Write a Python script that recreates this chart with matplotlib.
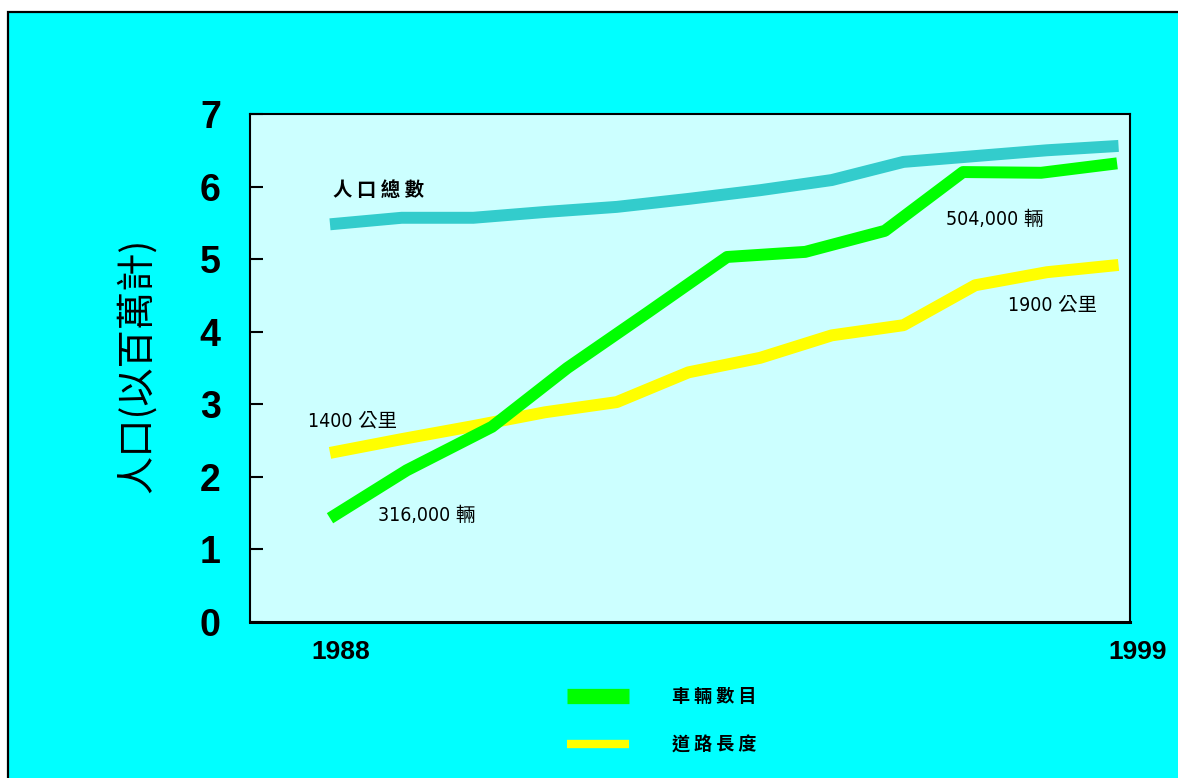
import numpy as np
import matplotlib
matplotlib.use("Agg")
import matplotlib.pyplot as plt
from matplotlib.lines import Line2D
from matplotlib.patches import Rectangle
from matplotlib import font_manager
from matplotlib.transforms import ScaledTranslation

# fonts
cjk = "Noto Sans CJK TC"
fonts = font_manager.fontManager.ttflist
names = {f.name for f in fonts}
has_cond = any(f.name == "DejaVu Sans" and "condensed" in str(f.stretch) for f in fonts)
if "Liberation Sans Narrow" in names:
    num_font, num_stretch = "Liberation Sans Narrow", "normal"
elif has_cond:
    num_font, num_stretch = "DejaVu Sans", "condensed"
else:
    num_font, num_stretch = "Liberation Sans", "normal"
plt.rcParams["font.family"] = ["Liberation Sans", cjk]

# data
years = [1988, 1989, 1990, 1991, 1992, 1993, 1994, 1995, 1996, 1997, 1998, 1999]
population = [5.48, 5.57, 5.57, 5.65, 5.72, 5.83, 5.95, 6.09, 6.34, 6.42, 6.50, 6.56]
road_length = [2.33, 2.52, 2.70, 2.89, 3.03, 3.44, 3.64, 3.95, 4.09, 4.64, 4.82, 4.92]
vehicle_x = [1988.0, 1989.07, 1990.26, 1991.31, 1992.44, 1993.54, 1994.63,
             1995.74, 1996.83, 1997.92, 1998.98]
vehicles = [1.43, 2.09, 2.69, 3.50, 4.27, 5.03, 5.10, 5.39, 6.20, 6.19, 6.32]

yticks = [0, 1, 2, 3, 4, 5, 6, 7]
xticks = [1988, 1999]
xlabels = ["1988", "1999"]
ylabel = "人口(以百萬計)"
legend_labels = ["車 輛 數 目", "道 路 長 度"]

pop_color = "#33CCCC"
car_color = "#00FF00"
road_color = "#FFFF00"

fig = plt.figure(figsize=(11.78, 7.78), dpi=100)
fig.patch.set_facecolor("white")
# cyan panel with black border (runs off right/bottom edge)
fig.patches.append(Rectangle((8 / 1178, -0.1), 1.2, 0.1 + 1 - 12 / 778,
                             transform=fig.transFigure, facecolor="#00FFFF",
                             edgecolor="black", linewidth=1.6, zorder=-5))

ax = fig.add_axes([250 / 1178, 1 - 622 / 778, 880 / 1178, 508 / 778])
ax.set_facecolor("#CCFFFF")

lw = 8.6
ax.plot(years, population, color=pop_color, lw=lw, solid_capstyle="butt")
ax.plot(years, road_length, color=road_color, lw=lw, solid_capstyle="butt")
ax.plot(vehicle_x, vehicles, color=car_color, lw=lw, solid_capstyle="butt")

ax.set_xlim(1986.884, 1999.16)
ax.set_ylim(0, 7)

ax.set_yticks(yticks)
ax.set_yticklabels([str(v) for v in yticks], fontsize=27, fontweight="bold")
ax.tick_params(axis="y", direction="in", length=9.5, width=1.5, pad=21)
ax.set_xticks(xticks)
ax.set_xticklabels(xlabels, fontsize=19, fontweight="bold")
ax.tick_params(axis="x", length=0, pad=13)
offsets = [11, 19]
for lab, dx in zip(ax.get_xticklabels(), offsets):
    lab.set_transform(lab.get_transform() + ScaledTranslation(dx / 100, 0, fig.dpi_scale_trans))

for s in ["top", "right", "left"]:
    ax.spines[s].set_linewidth(1.5)
ax.spines["bottom"].set_linewidth(2.2)

fig.text(137 / 1178, 1 - 365 / 778, ylabel, rotation=90, fontsize=27.5,
         family=[cjk], ha="center", va="center")

# annotations
ann = dict(fontsize=14, family=[num_font, cjk], fontstretch=num_stretch,
           ha="left", va="center")
ax.text(1988.04, 5.95, "人 口 總 數", fontsize=14, family=[cjk], fontweight="bold",
        ha="left", va="center")
ax.text(1996.59, 5.55, "504,000 輛", **ann)
ax.text(1997.46, 4.37, "1900 公里", **ann)
ax.text(1987.69, 2.77, "1400 公里", **ann)
ax.text(1988.67, 1.47, "316,000 輛", **ann)

handles = [Line2D([], [], color=car_color, lw=11, solid_capstyle="butt"),
           Line2D([], [], color=road_color, lw=6, solid_capstyle="butt")]
leg = fig.legend(handles, legend_labels, loc="upper left",
                 bbox_to_anchor=(551 / 1178, 1 - 671 / 778), frameon=False,
                 handlelength=3.4, handletextpad=2.4, labelspacing=1.6,
                 prop={"family": [cjk], "size": 13, "weight": "bold"})

fig.savefig("out.png", dpi=100, facecolor=fig.get_facecolor())
